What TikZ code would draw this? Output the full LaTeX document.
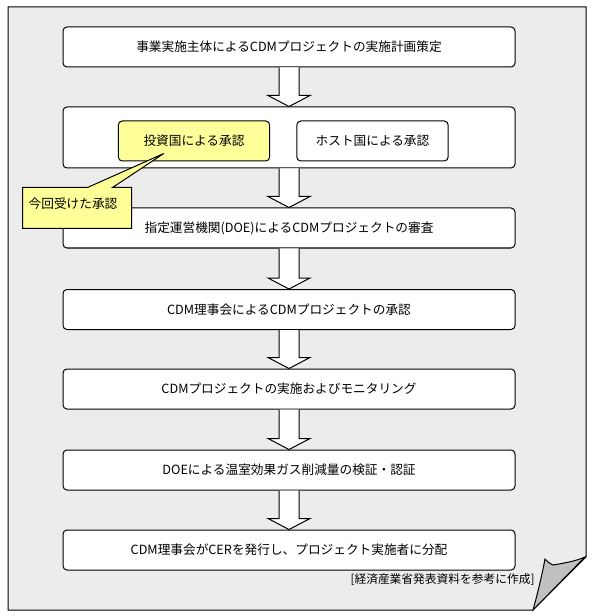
\documentclass[tikz,border=0pt]{standalone}
\usepackage{fontspec}
\setmainfont{Noto Sans CJK JP}
\usetikzlibrary{calc}
\definecolor{pagebg}{RGB}{236,236,236}
\definecolor{noteyellow}{RGB}{255,255,153}
\definecolor{flapgray}{RGB}{192,192,192}
\begin{document}
\begin{tikzpicture}[x=0.75pt,y=-0.75pt,
  font=\fontsize{9.5}{11}\selectfont,
  every path/.style={line width=0.75pt},
  stepbox/.style={draw,fill=white,rounded corners=3pt,inner sep=0pt,
    minimum width=339pt,minimum height=30pt},
  subbox/.style={draw,rounded corners=3pt,inner sep=0pt,
    minimum width=113.5pt,minimum height=30pt},
  calloutbox/.style={inner sep=0pt,minimum width=81pt,minimum height=30pt},
  bigarrow/.style={draw,fill=white,line join=miter}]
\useasboundingbox (0,0) rectangle (592,616);
% page with folded corner
\draw[fill=pagebg] (8,7) -- (586,7) -- (586,557) -- (533,610) -- (8,610) -- cycle;
\draw[fill=flapgray] (533,610) .. controls (538,592) and (542,575) .. (545,559)
  .. controls (548,562) and (550,564) .. (553,565)
  .. controls (565,563) and (576,561) .. (585,557) -- cycle;
% step boxes
\node[stepbox] (b1) at (289,47) {事業実施主体によるCDMプロジェクトの実施計画策定};
\node[stepbox,minimum height=45.75pt] (b2) at (289,137.5) {};
\node[stepbox] (b3) at (289,228) {指定運営機関(DOE)によるCDMプロジェクトの審査};
\node[stepbox] (b4) at (289,309.5) {CDM理事会によるCDMプロジェクトの承認};
\node[stepbox] (b5) at (289,389) {CDMプロジェクトの実施およびモニタリング};
\node[stepbox] (b6) at (289,470) {DOEによる温室効果ガス削減量の検証・認証};
\node[stepbox] (b7) at (289,550) {CDM理事会がCERを発行し、プロジェクト実施者に分配};
% arrows
\foreach \a/\b in {b1/b2,b2/b3,b3/b4,b4/b5,b5/b6,b6/b7}{
  \draw[bigarrow] ($(\a.south)+(-10,0)$) -- ($(\b.north)+(-10,-11)$)
    -- ($(\b.north)+(-21,-11)$) -- (\b.north) -- ($(\b.north)+(21,-11)$)
    -- ($(\b.north)+(10,-11)$) -- ($(\a.south)+(10,0)$);
}
% inner boxes of step 2
\node[subbox,fill=noteyellow] (inv) at (194,141) {投資国による承認};
\node[subbox,fill=white] (host) at (372.5,141) {ホスト国による承認};
% callout
\node[calloutbox] (co) at (77,208) {};
\coordinate (tip) at ($(inv.south west)+(46,-8)$);
\draw[fill=noteyellow,line join=miter] (co.north west) -- ($(co.north west)+(65,0)$) -- (tip)
  -- ($(co.north west)+(90,0)$) -- (co.north east) -- (co.south east)
  -- (co.south west) -- cycle;
\node (cotext) at (73,204) {今回受けた承認};
% note
\node[anchor=east,inner sep=0pt,font=\fontsize{8.8}{10}\selectfont] (note) at (535,580)
  {[経済産業省発表資料を参考に作成]};
\end{tikzpicture}
\end{document}
